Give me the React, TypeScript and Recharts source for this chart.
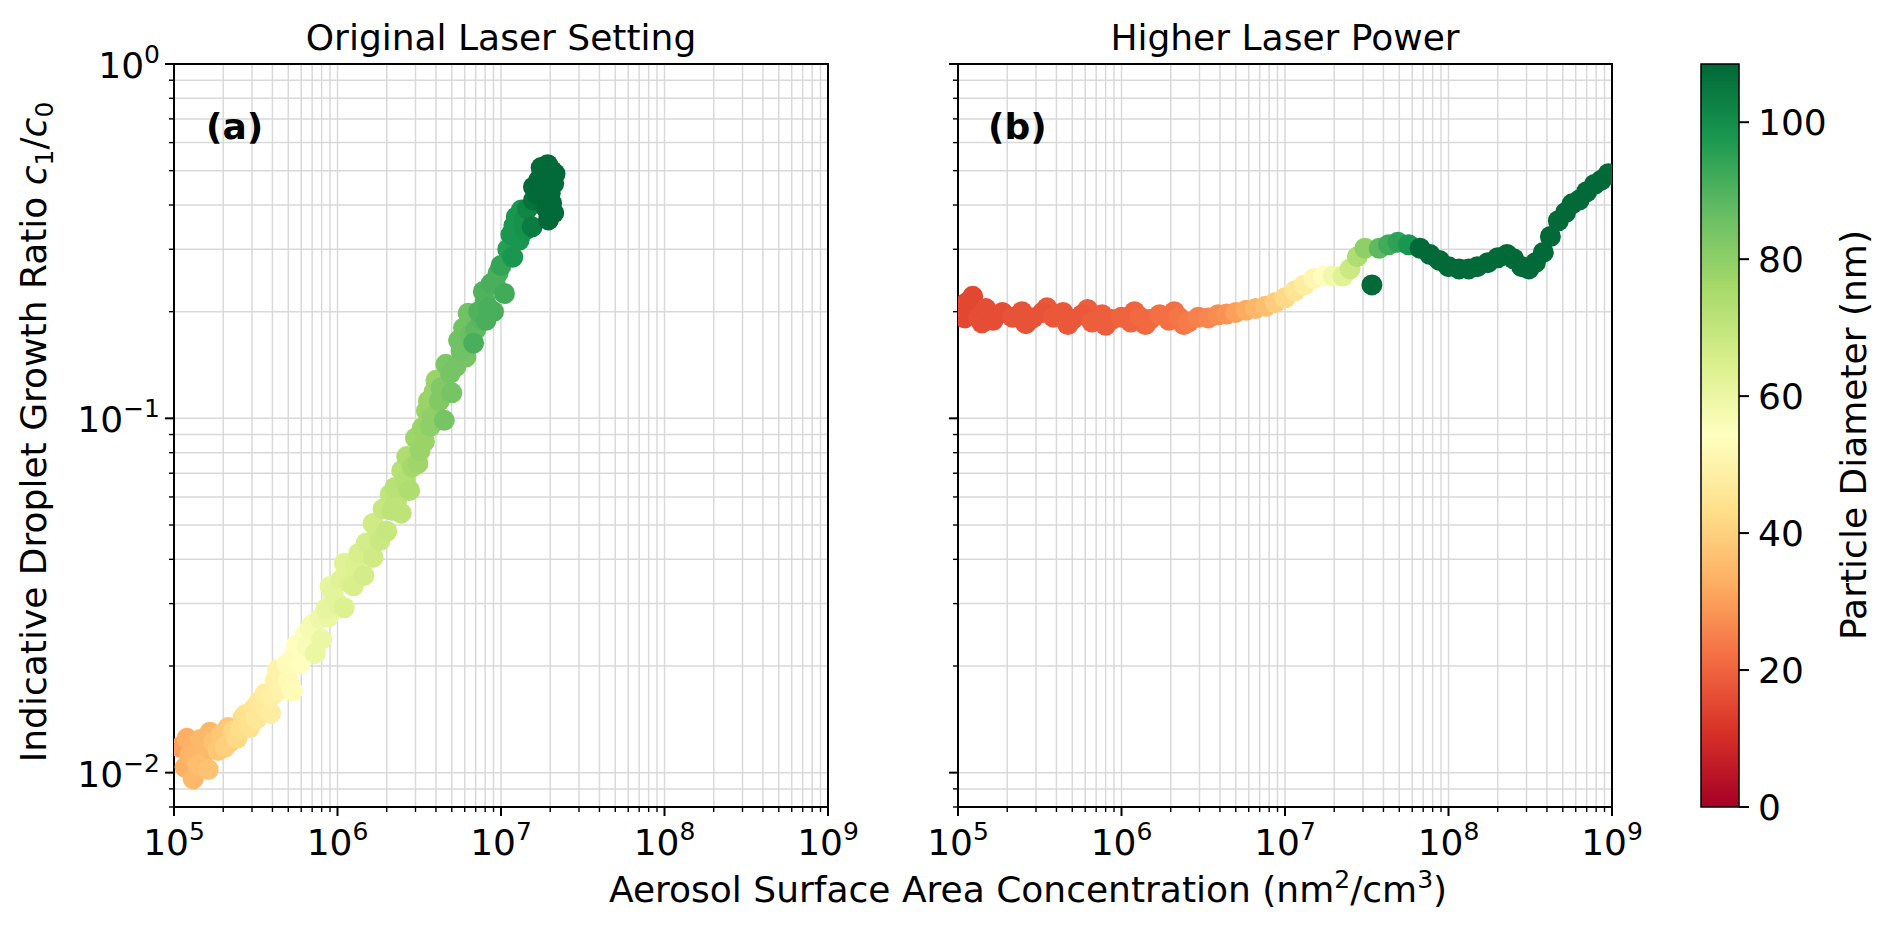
import React from "react";
import {
  ScatterChart,
  Scatter,
  XAxis,
  YAxis,
  CartesianGrid,
  ReferenceArea,
  BarChart,
  Bar,
} from "recharts";

// panel (a): original laser setting
const panelAConc = [
  1.09e5, 1.17e5, 1.2e5, 1.34e5, 1.25e5, 1.31e5, 1.51e5, 1.45e5, 1.66e5, 1.4e5,
  1.62e5, 1.75e5, 1.86e5, 1.95e5, 2.14e5, 2.05e5, 2.2e5, 2.3e5, 2.43e5, 2.64e5,
  2.55e5, 2.9e5, 2.75e5, 3.1e5, 3.3e5, 3.2e5, 3.5e5, 3.6e5, 3.9e5, 4.15e5,
  4.0e5, 4.4e5, 4.6e5, 4.3e5, 5.0e5, 4.9e5, 5.3e5, 5.4e5, 5.6e5, 5.9e5,
  6.3e5, 6.5e5, 6.8e5, 7.0e5, 7.8e5, 7.3e5, 8.0e5, 8.8e5, 8.5e5, 9.0e5,
  9.4e5, 1.0e6, 1.1e6, 1.05e6, 1.1e6, 1.2e6, 1.28e6, 1.25e6, 1.35e6, 1.45e6,
  1.5e6, 1.65e6, 1.65e6, 1.75e6, 1.82e6, 2.0e6, 1.9e6, 2.1e6, 2.15e6, 2.45e6,
  2.3e6, 2.24e6, 2.47e6, 2.6e6, 2.76e6, 2.65e6, 2.86e6, 3.0e6, 3.1e6, 3.2e6,
  3.3e6, 3.4e6, 3.5e6, 3.6e6, 3.9e6, 4.0e6, 3.7e6, 3.8e6, 4.2e6, 4.3e6,
  4.6e6, 4.5e6, 4.9e6, 5.3e6, 6.1e6, 5.0e6, 5.5e6, 5.9e6, 6.3e6, 5.7e6,
  6.5e6, 7.0e6, 8.0e6, 7.6e6, 7.3e6, 7.8e6, 6.8e6, 8.1e6, 8.7e6, 9.0e6,
  9.6e6, 8.4e6, 9.2e6, 1.05e7, 1.0e7, 1.1e7, 1.18e7, 1.29e7, 1.24e7, 1.33e7,
  1.15e7, 1.2e7, 1.41e7, 1.37e7, 1.45e7, 1.55e7, 1.58e7, 1.58e7, 1.76e7, 1.8e7,
  1.93e7, 2.14e7, 2.1e7, 2.0e7, 2.04e7, 1.95e7, 1.65e7, 1.7e7, 1.85e7, 2.05e7,
  1.9e7, 2.1e7,
];
const panelARatio = [
  0.0118, 0.01035, 0.0125, 0.0122, 0.0112, 0.0096, 0.0113, 0.0124, 0.013, 0.0105,
  0.0102, 0.0122, 0.01154, 0.0128, 0.0134, 0.0118, 0.0122, 0.0131, 0.0125, 0.0143,
  0.0133, 0.0134, 0.0146, 0.0152, 0.0158, 0.0142, 0.0155, 0.0167, 0.0147, 0.0182,
  0.0165, 0.0172, 0.0188, 0.0195, 0.0182, 0.0203, 0.017, 0.0212, 0.0229, 0.0203,
  0.0244, 0.0228, 0.0255, 0.0262, 0.0272, 0.0217, 0.0238, 0.0275, 0.029, 0.0335,
  0.032, 0.03, 0.039, 0.035, 0.0292, 0.0342, 0.0385, 0.0337, 0.0416, 0.036,
  0.0445, 0.0405, 0.0505, 0.0485, 0.0452, 0.048, 0.0555, 0.061, 0.055, 0.054,
  0.0585, 0.0638, 0.0713, 0.067, 0.0626, 0.078, 0.0728, 0.088, 0.0745, 0.081,
  0.094, 0.086, 0.105, 0.112, 0.119, 0.128, 0.095, 0.101, 0.112, 0.122,
  0.142, 0.0987, 0.134, 0.14, 0.149, 0.118, 0.166, 0.18, 0.198, 0.155,
  0.172, 0.178, 0.215, 0.19, 0.2, 0.228, 0.163, 0.189, 0.24, 0.2,
  0.257, 0.205, 0.24, 0.225, 0.27, 0.3, 0.285, 0.318, 0.37, 0.387,
  0.33, 0.35, 0.34, 0.36, 0.39, 0.347, 0.413, 0.45, 0.51, 0.48,
  0.52, 0.49, 0.46, 0.432, 0.405, 0.363, 0.43, 0.47, 0.5, 0.5,
  0.39, 0.38,
];
const panelADiam = [
  30, 33, 33, 33, 34, 35, 35, 35, 35, 36,
  37, 37, 38, 38, 38, 40, 40, 41, 42, 43,
  43, 44, 44, 45, 46, 46, 47, 48, 48, 49,
  49, 50, 50, 50, 52, 53, 53, 53, 54, 54,
  55, 56, 57, 57, 59, 60, 60, 60, 61, 61,
  62, 62, 63, 63, 64, 64, 64, 65, 65, 66,
  66, 67, 67, 67, 68, 69, 69, 70, 71, 71,
  71, 72, 72, 73, 74, 74, 76, 77, 77, 78,
  78, 78, 78, 78, 78, 78, 80, 80, 82, 82,
  83, 84, 84, 84, 84, 84, 85, 85, 85, 85,
  86, 88, 89, 89, 90, 90, 91, 91, 91, 91,
  91, 91, 91, 92, 94, 96, 98, 98, 98, 98,
  98, 98, 99, 99, 102, 104, 106, 108, 108, 108,
  108, 108, 108, 108, 108, 108, 108, 108, 108, 108,
  108, 108,
];

// panel (b): higher laser power
const panelBConc = [
  1.1e5, 1.4e5, 2.6e5, 3.5e5, 4.7e5, 6.2e5, 8.0e5, 1.2e6, 1.4e6, 2.1e6, 2.4e6,
  1.05e5, 1.13e5, 1.23e5, 1.33e5, 1.48e5, 1.64e5, 1.87e5, 2.15e5, 2.46e5, 2.87e5,
  3.29e5, 3.83e5, 4.39e5, 5.0e5, 5.75e5, 6.6e5, 7.6e5, 8.7e5, 1.0e6, 1.14e6,
  1.3e6, 1.49e6, 1.71e6, 1.95e6, 2.24e6, 2.57e6, 2.95e6, 3.4e6, 3.9e6, 4.4e6,
  5.0e6, 5.8e6, 6.6e6, 7.6e6, 8.7e6, 1.0e7, 1.15e7, 1.31e7, 1.5e7, 1.72e7,
  1.97e7, 2.26e7, 2.5e7, 2.77e7, 3.08e7, 3.4e7, 3.77e7, 4.3e7, 4.9e7, 5.7e7,
  6.7e7, 7.7e7, 8.8e7, 1.0e8, 1.16e8, 1.33e8, 1.5e8, 1.74e8, 2.0e8, 2.28e8,
  2.5e8, 2.8e8, 3.1e8, 3.4e8, 3.8e8, 4.2e8, 4.7e8, 5.2e8, 5.7e8, 6.3e8,
  7.0e8, 7.8e8, 8.6e8, 9.5e8,
];
const panelBRatio = [
  0.192, 0.186, 0.185, 0.205, 0.184, 0.203, 0.183, 0.2, 0.184, 0.2, 0.184,
  0.199, 0.212, 0.221, 0.193, 0.204, 0.189, 0.199, 0.193, 0.2, 0.192,
  0.199, 0.193, 0.199, 0.19, 0.196, 0.187, 0.196, 0.19, 0.193, 0.187,
  0.193, 0.19, 0.196, 0.189, 0.193, 0.187, 0.193, 0.192, 0.196, 0.197,
  0.199, 0.202, 0.204, 0.207, 0.212, 0.219, 0.229, 0.238, 0.248, 0.252,
  0.252, 0.252, 0.264, 0.286, 0.302, 0.238, 0.302, 0.309, 0.314, 0.309,
  0.302, 0.29, 0.279, 0.268, 0.264, 0.264, 0.268, 0.275, 0.284, 0.29,
  0.282, 0.268, 0.264, 0.275, 0.294, 0.326, 0.361, 0.381, 0.403, 0.413,
  0.436, 0.457, 0.47, 0.49,
];
const panelBDiam = [
  15, 16, 17, 18, 18, 19, 19, 20, 21, 22, 23,
  15, 15, 15, 16, 16, 16, 16, 17, 17, 17,
  17, 18, 18, 18, 18, 19, 19, 19, 20, 20,
  21, 21, 22, 22, 23, 24, 25, 26, 27, 28,
  30, 32, 34, 36, 39, 42, 45, 48, 51, 54,
  58, 63, 68, 74, 80, 108, 88, 92, 95, 98,
  108, 108, 108, 108, 108, 108, 108, 108, 108, 108,
  108, 108, 108, 108, 108, 108, 108, 108, 108, 108,
  108, 108, 108, 108,
];

// log axis ticks (majors get labels)
const xTicks = [
  1e5, 2e5, 3e5, 4e5, 5e5, 6e5, 7e5, 8e5, 9e5,
  1e6, 2e6, 3e6, 4e6, 5e6, 6e6, 7e6, 8e6, 9e6,
  1e7, 2e7, 3e7, 4e7, 5e7, 6e7, 7e7, 8e7, 9e7,
  1e8, 2e8, 3e8, 4e8, 5e8, 6e8, 7e8, 8e8, 9e8,
  1e9,
];
const yTicks = [
  0.008, 0.009,
  0.01, 0.02, 0.03, 0.04, 0.05, 0.06, 0.07, 0.08, 0.09,
  0.1, 0.2, 0.3, 0.4, 0.5, 0.6, 0.7, 0.8, 0.9,
  1,
];
const colorbarTicks = [0, 20, 40, 60, 80, 100];

const X_DOMAIN = [1e5, 1e9];
const Y_DOMAIN = [0.008, 1];
const CB_MAX = 108.5;

const RDYLGN = [
  "#a50026", "#d73027", "#f46d43", "#fdae61", "#fee08b", "#ffffbf",
  "#d9ef8b", "#a6d96a", "#66bd63", "#1a9850", "#006837",
];

const FONT = "'DejaVu Sans', sans-serif";
const FS = 36;
const SUP = 25;
const PLOT_W = 654;
const RIGHT_PAD = 50;

const toPoints = (xs: number[], ys: number[], ds: number[]) =>
  xs.map((x, i) => ({ x, y: ys[i], d: ds[i] }));

const pointsA = toPoints(panelAConc, panelARatio, panelADiam);
const pointsB = toPoints(panelBConc, panelBRatio, panelBDiam);

function hexToRgb(h: string) {
  const n = parseInt(h.slice(1), 16);
  return [(n >> 16) & 255, (n >> 8) & 255, n & 255];
}

function diamColor(d: number) {
  const t = Math.min(1, Math.max(0, d / CB_MAX)) * 10;
  const i = Math.min(9, Math.floor(t));
  const f = t - i;
  const a = hexToRgb(RDYLGN[i]);
  const b = hexToRgb(RDYLGN[i + 1]);
  const c = a.map((v, k) => Math.round(v + (b[k] - v) * f));
  return `rgb(${c[0]},${c[1]},${c[2]})`;
}

const isMajor = (v: number) => {
  const l = Math.log10(v);
  return Math.abs(l - Math.round(l)) < 1e-6;
};

const expLabel = (v: number) => {
  const e = Math.round(Math.log10(v));
  return e < 0 ? `\u2212${-e}` : `${e}`;
};

function BottomTick(props: any) {
  const { x, y, payload } = props;
  const major = isMajor(payload.value);
  return (
    <g>
      <line x1={x} x2={x} y1={y} y2={y + (major ? 9 : 5)} stroke="#000" strokeWidth={major ? 2 : 1.4} />
      {major && (
        <text x={x} y={y + 48} textAnchor="middle" fontSize={FS} fontFamily={FONT} fill="#000">
          10<tspan dy={-15} fontSize={SUP}>{expLabel(payload.value)}</tspan>
        </text>
      )}
    </g>
  );
}

function LeftTick(props: any) {
  const { x, y, payload, showLabel } = props;
  const major = isMajor(payload.value);
  return (
    <g>
      <line x1={x} x2={x - (major ? 9 : 5)} y1={y} y2={y} stroke="#000" strokeWidth={major ? 2 : 1.4} />
      {major && showLabel && (
        <text x={x - 14} y={y + 14} textAnchor="end" fontSize={FS} fontFamily={FONT} fill="#000">
          10<tspan dy={-15} fontSize={SUP}>{expLabel(payload.value)}</tspan>
        </text>
      )}
    </g>
  );
}

function ColorbarTick(props: any) {
  const { x, y, payload } = props;
  return (
    <g>
      <line x1={x} x2={x + 10} y1={y} y2={y} stroke="#000" strokeWidth={2} />
      <text x={x + 19} y={y + 13} fontSize={FS} fontFamily={FONT} fill="#000">
        {payload.value}
      </text>
    </g>
  );
}

const dotShape = (p: any) => (
  <circle cx={p.cx} cy={p.cy} r={10.5} fill={diamColor(p.payload.d)} />
);

function Panel({ data, showYLabels, yAxisWidth }: { data: any[]; showYLabels: boolean; yAxisWidth: number }) {
  return (
    <ScatterChart
      width={yAxisWidth + PLOT_W + RIGHT_PAD}
      height={927}
      margin={{ top: 64, right: RIGHT_PAD, bottom: 60, left: 0 }}
    >
      <CartesianGrid stroke="#d9d9d9" strokeWidth={1.5} />
      <XAxis
        dataKey="x"
        type="number"
        scale="log"
        domain={X_DOMAIN}
        ticks={xTicks}
        interval={0}
        allowDataOverflow
        axisLine={false}
        tickLine={false}
        tickSize={0}
        tickMargin={0}
        height={60}
        tick={(p: any) => <BottomTick {...p} />}
      />
      <YAxis
        dataKey="y"
        type="number"
        scale="log"
        domain={Y_DOMAIN}
        ticks={yTicks}
        interval={0}
        allowDataOverflow
        axisLine={false}
        tickLine={false}
        tickSize={0}
        tickMargin={0}
        width={yAxisWidth}
        tick={(p: any) => <LeftTick {...p} showLabel={showYLabels} />}
      />
      <Scatter data={data} shape={dotShape} isAnimationActive={false} />
      <ReferenceArea
        x1={X_DOMAIN[0]}
        x2={X_DOMAIN[1]}
        y1={Y_DOMAIN[0]}
        y2={Y_DOMAIN[1]}
        fill="none"
        stroke="#000"
        strokeWidth={2}
      />
    </ScatterChart>
  );
}

function Colorbar() {
  return (
    <BarChart
      width={242}
      height={927}
      data={[{ name: "cb", v: CB_MAX }]}
      margin={{ top: 64, right: 0, bottom: 120, left: 51 }}
      barCategoryGap={0}
    >
      <XAxis dataKey="name" hide />
      <YAxis
        orientation="right"
        type="number"
        domain={[0, CB_MAX]}
        ticks={colorbarTicks}
        interval={0}
        axisLine={false}
        tickLine={false}
        tickSize={0}
        tickMargin={0}
        width={153}
        tick={(p: any) => <ColorbarTick {...p} />}
      />
      <Bar dataKey="v" fill="url(#rdylgn)" stroke="#000" strokeWidth={1.5} isAnimationActive={false} />
    </BarChart>
  );
}

export default function App() {
  const textProps = { fontSize: FS, fontFamily: FONT, fill: "#000" };
  return (
    <div style={{ position: "absolute", left: 0, top: 0, width: 1892, height: 927, background: "#fff", overflow: "hidden" }}>
      <svg width={0} height={0} style={{ position: "absolute" }}>
        <defs>
          <linearGradient id="rdylgn" x1="0" y1="1" x2="0" y2="0">
            {RDYLGN.map((c, i) => (
              <stop key={c} offset={`${i * 10}%`} stopColor={c} />
            ))}
          </linearGradient>
        </defs>
      </svg>

      <div style={{ position: "absolute", left: 0, top: 0 }}>
        <Panel data={pointsA} showYLabels yAxisWidth={174} />
      </div>
      <div style={{ position: "absolute", left: 900, top: 0 }}>
        <Panel data={pointsB} showYLabels={false} yAxisWidth={58} />
      </div>
      <div style={{ position: "absolute", left: 1650, top: 0 }}>
        <Colorbar />
      </div>

      <svg width={1892} height={927} style={{ position: "absolute", left: 0, top: 0, pointerEvents: "none" }}>
        <text x={501} y={50} textAnchor="middle" {...textProps}>Original Laser Setting</text>
        <text x={1285} y={50} textAnchor="middle" {...textProps}>Higher Laser Power</text>
        <text x={206} y={139} fontWeight="bold" {...textProps}>(a)</text>
        <text x={988} y={139} fontWeight="bold" {...textProps}>(b)</text>
        <text x={1028} y={902} textAnchor="middle" {...textProps}>
          Aerosol Surface Area Concentration (nm<tspan dy={-14} fontSize={SUP}>2</tspan>
          <tspan dy={14}>/cm</tspan>
          <tspan dy={-14} fontSize={SUP}>3</tspan>
          <tspan dy={14}>)</tspan>
        </text>
        <text x={46} y={432} textAnchor="middle" transform="rotate(-90, 46, 432)" {...textProps}>
          Indicative Droplet Growth Ratio <tspan fontStyle="italic">c</tspan>
          <tspan dy={7} fontSize={SUP}>1</tspan>
          <tspan dy={-7}>/</tspan>
          <tspan fontStyle="italic">c</tspan>
          <tspan dy={7} fontSize={SUP}>0</tspan>
        </text>
        <text x={1866} y={435} textAnchor="middle" transform="rotate(-90, 1866, 435)" {...textProps}>
          Particle Diameter (nm)
        </text>
      </svg>
    </div>
  );
}
